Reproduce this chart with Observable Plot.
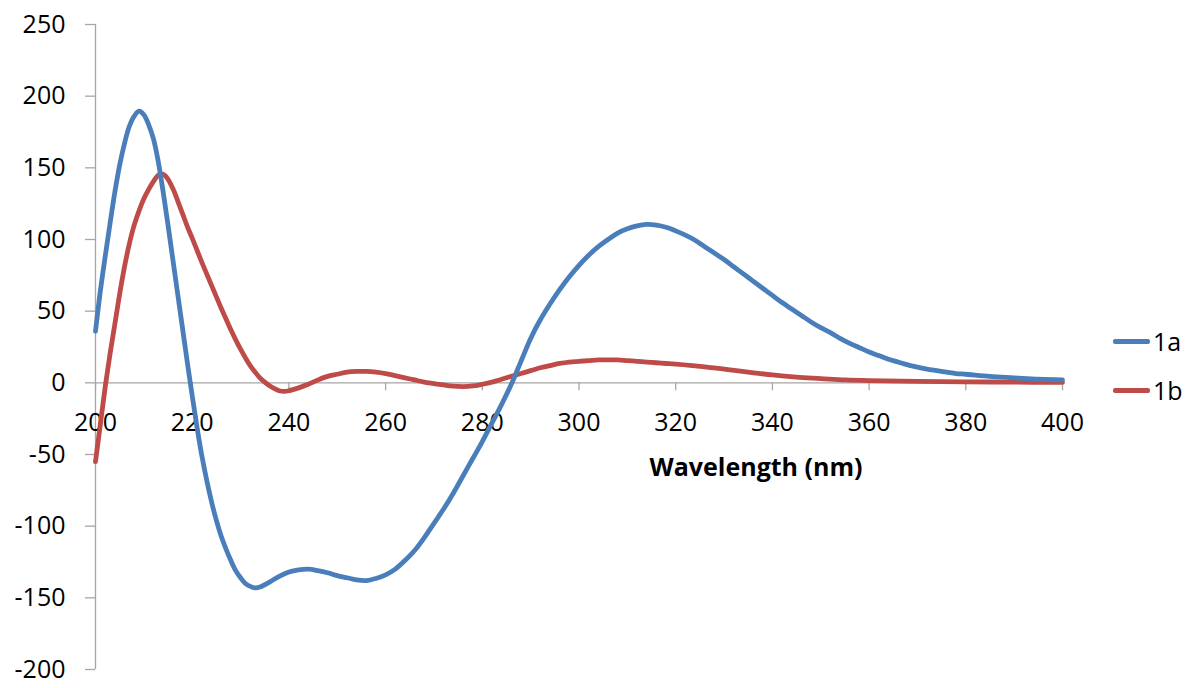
<!DOCTYPE html>
<html>
<head>
<meta charset="utf-8">
<script src="https://cdn.jsdelivr.net/npm/d3@7"></script>
<script src="https://cdn.jsdelivr.net/npm/@observablehq/plot@0.6"></script>
<style>
  html, body { margin: 0; padding: 0; background: #fff; }
  #wrap { position: relative; width: 1187px; height: 688px; font-family: "Open Sans", sans-serif; }
  .leg { position: absolute; left: 1113px; display: flex; align-items: center; font-size: 25px; color: #000; }
  .leg .sw { width: 37px; height: 5px; border-radius: 2px; margin-right: 3px; }
</style>
</head>
<body>
<div id="wrap"></div>
<script>
// ---- data ----
const seriesNames = ["1a", "1b"];
const seriesColors = ["#4a7ebb", "#be4b48"];

const wl1a = [200,201,202,203,204,205,206,207,208,209,210,211,212,213,214,215,216,217,218,219,220,221,222,223,224,225,226,227,228,229,230,231,232,233,234,
  236,238,240,242,244,246,248,250,252,254,256,258,260,262,264,266,268,270,272,274,276,278,280,282,284,286,288,290,292,294,296,298,300,302,304,306,308,310,312,314,316,318,320,322,324,326,328,330,332,334,336,338,340,342,344,346,348,350,352,354,356,358,360,362,364,366,368,370,372,374,376,378,380,385,390,395,400];
const cd1a = [36,64,88,111,133,152,167,179,186,189.5,187,180,170,154,133,110,86,62,38,14,-9,-31,-51,-68,-83,-96,-107,-116,-124,-131,-136,-140,-142,-143,-142.5,
  -139,-135,-132,-130.5,-130,-131,-132.5,-134.5,-136,-137.5,-138,-136.5,-134,-130,-124,-117,-108,-98,-88,-77,-65,-53,-41,-28,-15,-1,15,31,44,55,65,74,82,89,95,100,104.5,107.5,109.5,110.5,110,108.5,106,103,99.5,95,90.5,86,81,76,71,66,61,56,51.5,47,42.5,38.5,35,31,27.5,24.5,21.5,19,16.5,14.5,12.5,11,9.5,8.5,7.5,6.5,6,4.5,3.5,2.5,2];

const wl1b = [200,201,202,203,204,205,206,207,208,209,210,211,212,213,214,215,216,217,218,219,220,221,222,223,224,225,226,227,228,229,230,231,232,233,234,235,236,237,238,239,240,
  242,244,246,248,250,252,254,256,258,260,262,264,266,268,270,272,274,276,278,280,282,284,286,288,290,292,294,296,298,300,302,304,306,308,310,312,314,316,318,320,325,330,335,340,345,350,355,360,370,380,390,400];
const cd1b = [-55,-29,-3,20,41,62,81,97,110,120,128.5,135,140.5,145,145.5,142,135.5,127,118,109,101,92.5,84,76,68,60,52,44.5,37,30,23.5,17.5,12,7.5,3.5,0.5,-2,-4,-5.5,-6,-5.5,
  -3.5,-1,2,4.5,6,7.5,8,8,7.5,6.5,5,3.5,2,0.5,-0.5,-1.5,-2.3,-2.6,-2.2,-1,0.5,2.5,4.5,6.5,8.5,10.5,12,13.5,14.5,15,15.5,16,16,16,15.5,15,14.5,14,13.5,13,11.5,9.5,7.5,5.5,4,3,2,1.5,1,0.7,0.5,0.3];

const xTicks = [200,220,240,260,280,300,320,340,360,380,400];
const yTicks = [-200,-150,-100,-50,0,50,100,150,200,250];
const xLabel = "Wavelength (nm)";

// ---- build table ----
const rows = [
  ...wl1a.map((w, i) => ({series: "1a", w, v: cd1a[i]})),
  ...wl1b.map((w, i) => ({series: "1b", w, v: cd1b[i]}))
];

const axisGray = "#a6a6a6";
const font = "'Open Sans', sans-serif";

const chart = Plot.plot({
  width: 1187,
  height: 688,
  marginLeft: 95,
  marginRight: 125,
  marginTop: 24,
  marginBottom: 19,
  style: {fontFamily: font, fontSize: "25px", color: "#000", background: "#fff"},
  x: {domain: [200, 400], axis: null},
  y: {domain: [-200, 250], axis: null},
  color: {domain: seriesNames, range: seriesColors},
  marks: [
    Plot.axisY({ticks: yTicks, tickSize: 10, tickPadding: 20, stroke: axisGray, strokeWidth: 1.3, fill: "#000", fontSize: 25, tickFormat: d => String(d), label: null}),
    Plot.ruleX([200], {stroke: axisGray, strokeWidth: 1.3}),
    Plot.ruleY([0], {stroke: axisGray, strokeWidth: 1.3}),
    Plot.ruleX(xTicks, {x: d => d, y1: 0, y2: 0, insetBottom: -8, stroke: axisGray, strokeWidth: 1.3}),
    Plot.text(xTicks, {x: d => d, y: 0, text: d => String(d), dy: 30, lineAnchor: "top", textAnchor: "middle", fontSize: 25, fill: "#000"}),
    Plot.text([xLabel], {frameAnchor: "middle", text: d => d, dx: 177, dy: 121, fontWeight: "bold", fontSize: 25, fill: "#000"}),
    Plot.line(rows.filter(d => d.series === "1b"), {x: "w", y: "v", stroke: "series", strokeWidth: 4.8, curve: "catmull-rom"}),
    Plot.line(rows.filter(d => d.series === "1a"), {x: "w", y: "v", stroke: "series", strokeWidth: 4.8, curve: "catmull-rom"})
  ]
});

const wrap = document.getElementById("wrap");
wrap.appendChild(chart);

// legend
const legendTops = [324, 373];
seriesNames.forEach((name, i) => {
  const item = document.createElement("div");
  item.className = "leg";
  item.style.top = legendTops[i] + "px";
  const sw = document.createElement("span");
  sw.className = "sw";
  sw.style.background = seriesColors[i];
  const lab = document.createElement("span");
  lab.textContent = name;
  item.appendChild(sw);
  item.appendChild(lab);
  wrap.appendChild(item);
});
</script>
</body>
</html>
